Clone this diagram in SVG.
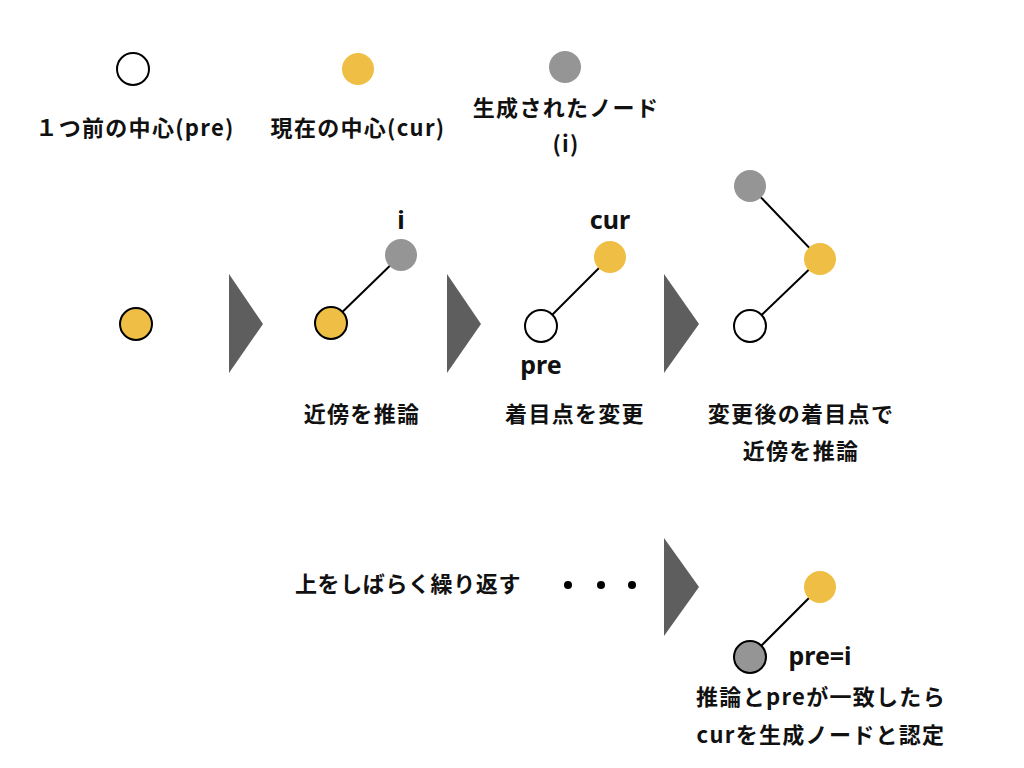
<svg xmlns="http://www.w3.org/2000/svg" width="1024" height="768" viewBox="0 0 1024 768">
<style>
.t{font-family:"Noto Sans CJK JP","Noto Sans",sans-serif;font-size:22px;font-weight:bold;fill:#111;text-anchor:middle;letter-spacing:1.3px}
.l{font-family:"Noto Sans","Noto Sans CJK JP",sans-serif;font-size:25px;font-weight:bold;fill:#111;text-anchor:middle}
.w{fill:#fff;stroke:#000;stroke-width:2}
.y{fill:#EFBE44}
.ys{fill:#EFBE44;stroke:#000;stroke-width:2}
.g{fill:#959595}
.gs{fill:#959595;stroke:#000;stroke-width:2}
.a{fill:#5E5E5E}
.c{stroke:#000;stroke-width:2}
</style>
<rect width="1024" height="768" fill="#fff"/>
<g id="connectors">
<line class="c" x1="331" y1="323" x2="401" y2="255"/>
<line class="c" x1="541" y1="326" x2="610" y2="257"/>
<line class="c" x1="750" y1="186" x2="820" y2="259"/>
<line class="c" x1="820" y1="259" x2="750" y2="326"/>
<line class="c" x1="750" y1="657" x2="820" y2="587"/>
</g>
<g id="legend-pre"><circle class="w" cx="133" cy="69" r="16"/><text class="t" x="135" y="136">１つ前の中心(pre)</text></g>
<g id="legend-cur"><circle class="y" cx="358" cy="69" r="16"/><text class="t" x="358" y="136">現在の中心(cur)</text></g>
<g id="legend-i"><circle class="g" cx="565" cy="67" r="16"/><text class="t" x="566" y="116">生成されたノード</text><text class="t" x="566" y="152">(i)</text></g>
<g id="step1"><circle class="ys" cx="136" cy="324" r="16"/></g>
<g id="arrow1"><polygon class="a" points="229,274 263,324 229,373"/></g>
<g id="step2">
<circle class="ys" cx="331" cy="323" r="16"/>
<circle class="g" cx="401" cy="255" r="16"/>
<text class="l" x="401" y="229">i</text>
<text class="t" x="362" y="422">近傍を推論</text>
</g>
<g id="arrow2"><polygon class="a" points="447,274 481,324 447,373"/></g>
<g id="step3">
<circle class="w" cx="541" cy="326" r="16"/>
<circle class="y" cx="610" cy="257" r="16"/>
<text class="l" x="610" y="229">cur</text>
<text class="l" x="541" y="374">pre</text>
<text class="t" x="575" y="422">着目点を変更</text>
</g>
<g id="arrow3"><polygon class="a" points="664,274 699,324 664,373"/></g>
<g id="step4">
<circle class="g" cx="750" cy="186" r="16"/>
<circle class="y" cx="820" cy="259" r="16"/>
<circle class="w" cx="750" cy="326" r="16"/>
<text class="t" x="801" y="422">変更後の着目点で</text>
<text class="t" x="801" y="459">近傍を推論</text>
</g>
<g id="repeat">
<text class="t" x="408" y="592" style="letter-spacing:0.6px">上をしばらく繰り返す</text>
<circle cx="568" cy="585" r="4" fill="#000"/>
<circle cx="601" cy="585" r="4" fill="#000"/>
<circle cx="632" cy="585" r="4" fill="#000"/>
</g>
<g id="arrow4"><polygon class="a" points="664,538 699,587 664,636"/></g>
<g id="final">
<circle class="y" cx="820" cy="587" r="16"/>
<circle class="gs" cx="750" cy="657" r="16"/>
<text class="l" x="820" y="665">pre=i</text>
<text class="t" x="821" y="705">推論とpreが一致したら</text>
<text class="t" x="821" y="743">curを生成ノードと認定</text>
</g>
</svg>
